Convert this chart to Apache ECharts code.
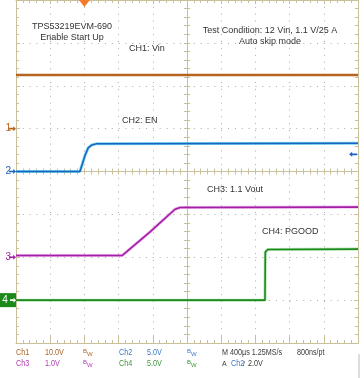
<!DOCTYPE html>
<html><head><meta charset="utf-8">
<script src="https://cdn.jsdelivr.net/npm/echarts@6/dist/echarts.min.js"></script>
<style>html,body{margin:0;padding:0;background:#fff}#c{width:364px;height:378px}</style>
</head><body><div id="c"></div>
<script>
// Traces in screen divisions: [time (div from centre), level (div from centre)]
const ch1Vin   = [[-5, 2.25], [5, 2.25]];
const ch2En    = [[-5, 0], [-3.13, 0], [-3.07, 0.15], [-2.98, 0.38], [-2.89, 0.55], [-2.78, 0.62], [-2.63, 0.65], [5, 0.66]];
const ch3Vout  = [[-5, -1.96], [-1.9, -1.96], [-1.08, -1.41], [-0.35, -0.88], [-0.2, -0.84], [5, -0.83]];
const ch4Pgood = [[-5, -3.0], [2.28, -3.0], [2.29, -1.88], [2.36, -1.82], [5, -1.81]];
const groundLevels = [1, 0, -2, -3];          // ground markers ch1..ch4
const chNames = ['1', '2', '3', '4'];
const chColors = ['#b5651d', '#1a64c0', '#a21ea6', '#1b8a1b'];
const triggerTime = -3;
const triggerLevel = 0.4;
const xRange = [-5, 5];
const yRange = [-4, 4];

const GL = 16, GR = 6, GT = 0, GB = 35, W = 364, H = 378;
const gw = W - GL - GR, gh = H - GT - GB;

const tan = '#c9bf9a';
const dot = { show: true, lineStyle: { color: '#aaaaaa', type: [1, 5.84], width: 1 } };

function tick(inside, len) { return { show: true, inside: inside, length: len, lineStyle: { color: tan, width: 1 } }; }
function minor(len) { return { show: true, splitNumber: 5, length: len, lineStyle: { color: tan, width: 1 } }; }
function ax(range, o) {
  return Object.assign({
    type: 'value', min: range[0], max: range[1], interval: 1,
    axisLabel: { show: false }, splitLine: { show: false },
    axisLine: { show: true, onZero: false, lineStyle: { color: tan, width: 1 } },
    axisTick: tick(true, 4), minorTick: minor(3)
  }, o);
}

const arrowR = 'path://M0 2H6V0L10 3L6 6V4H0Z';
const arrowL = 'path://M10 2H4V0L0 3L4 6V4H10Z';

function groundMark(i) {
  const c = chColors[i];
  if (i === 3) {
    return [
      { coord: [xRange[0], groundLevels[i]], symbol: 'rect', symbolSize: [16, 14], symbolOffset: [-8, 0],
        itemStyle: { color: '#1b8a1b' },
        label: { show: true, formatter: chNames[i], position: 'inside', offset: [-3, 0], color: '#fff', fontSize: 10, fontFamily: 'Liberation Sans' } },
      { coord: [xRange[0], groundLevels[i]], symbol: arrowR, symbolSize: [6, 5], symbolOffset: [-3, 0],
        itemStyle: { color: '#fff' }, label: { show: false } }
    ];
  }
  return [{ coord: [xRange[0], groundLevels[i]], symbol: arrowR, symbolSize: [7, 5], symbolOffset: [-3.5, 0],
    itemStyle: { color: c },
    label: { show: true, formatter: chNames[i], position: 'left', distance: 0, offset: [2, 0], color: c, fontSize: 10, fontFamily: 'Liberation Sans' } }];
}

function line(data, color, width, extra) {
  return Object.assign({
    type: 'line', data: data, showSymbol: false, symbol: 'none', animation: false,
    lineStyle: { color: color, width: width }, xAxisIndex: 0, yAxisIndex: 0
  }, extra || {});
}

const labelFont = '9px "Liberation Sans", Arial, sans-serif';
const legFont = '9px "Liberation Sans", Arial, sans-serif';
function txt(x, y, text, fill, font, align, sx) {
  return { type: 'text', x: x, y: y, z: 10, scaleX: sx || 1, style: { text: text, fill: fill, font: font, textAlign: align || 'left', align: align || 'left', textVerticalAlign: 'middle', verticalAlign: 'middle', lineHeight: 11 } };
}
function leg(x, y, text, fill) { return txt(x, y, text, fill, legFont, 'left', 0.8); }
function bw(x, y, fill) {
  return [txt(x, y - 2, 'B', fill, '6px "Liberation Sans", sans-serif'), txt(x + 4, y + 1, 'W', fill, '6px "Liberation Sans", sans-serif')];
}

const legC = ['#a8652a', '#3a78c8', '#b03cb0', '#3c963c'];
const dark = '#3a3a3a';

const chart = echarts.init(document.getElementById('c'), null, { renderer: 'canvas' });
chart.setOption({
  animation: false,
  backgroundColor: '#ffffff',
  grid: { left: GL, right: GR, top: GT, bottom: GB, containLabel: false },
  xAxis: [
    ax(xRange, { position: 'bottom', axisTick: tick(true, 7), splitLine: dot }),
    ax(xRange, { position: 'top' }),
    ax(xRange, { position: 'bottom', offset: -gh / 2, axisTick: tick(true, 3) }),
    ax(xRange, { position: 'bottom', offset: -gh / 2, axisTick: tick(false, 3) })
  ],
  yAxis: [
    ax(yRange, { position: 'left', splitLine: dot }),
    ax(yRange, { position: 'right' }),
    ax(yRange, { position: 'left', offset: -gw / 2, axisTick: tick(true, 3) }),
    ax(yRange, { position: 'left', offset: -gw / 2, axisTick: tick(false, 3) })
  ],
  series: [
    line(ch1Vin, chColors[0], 2.5, { markPoint: { animation: false, data: groundMark(0).concat([
      { coord: [triggerTime, yRange[1]], symbol: 'triangle', symbolRotate: 180, symbolSize: [11, 7], symbolOffset: [0, 3.5], itemStyle: { color: '#f37b2e' }, label: { show: false } }
    ]) } }),
    line(ch2En, '#5ccbef', 3, { lineStyle: { color: '#5ccbef', width: 3, opacity: 0.85 } }),
    line(ch2En, chColors[1], 1.5, { markPoint: { animation: false, data: groundMark(1).concat([
      { coord: [xRange[1], triggerLevel], symbol: arrowL, symbolSize: [8, 5], symbolOffset: [-5, 0], itemStyle: { color: chColors[1] }, label: { show: false } }
    ]) } }),
    line(ch3Vout, '#e07ae0', 3, { lineStyle: { color: '#e07ae0', width: 3, opacity: 0.6 } }),
    line(ch3Vout, chColors[2], 1.6, { markPoint: { animation: false, data: groundMark(2) } }),
    line(ch4Pgood, '#7fd07f', 3, { lineStyle: { color: '#7fd07f', width: 3, opacity: 0.6 } }),
    line(ch4Pgood, chColors[3], 1.6, { markPoint: { animation: false, data: groundMark(3) } })
  ],
  graphic: [
    txt(72, 32.5, 'TPS53219EVM-690\nEnable Start Up', '#333', labelFont, 'center'),
    txt(129, 49, 'CH1: Vin', '#333', labelFont),
    txt(270, 36, 'Test Condition: 12 Vin, 1.1 V/25 A\nAuto skip mode', '#333', labelFont, 'center'),
    txt(122, 121, 'CH2: EN', '#333', labelFont),
    txt(207, 190, 'CH3: 1.1 Vout', '#333', labelFont),
    txt(262, 232, 'CH4: PGOOD', '#333', labelFont),
    leg(16, 353, 'Ch1', legC[0]), leg(45, 353, '10.0V', legC[0]),
    leg(119, 353, 'Ch2', legC[1]), leg(147, 353, '5.0V', legC[1]),
    leg(222, 353, 'M 400µs 1.25MS/s', dark), leg(297, 353, '800ns/pt', dark),
    leg(16, 364, 'Ch3', legC[2]), leg(45, 364, '1.0V', legC[2]),
    leg(119, 364, 'Ch4', legC[3]), leg(147, 364, '5.0V', legC[3]),
    txt(222, 364, 'A', dark, '7px "Liberation Sans", sans-serif'),
    leg(231, 364, 'Ch2', legC[1]), txt(243, 364, '/', dark, '7px "Liberation Sans", sans-serif'),
    leg(248, 364, '2.0V', dark),
    { type: 'rect', shape: { x: 358, y: 354, width: 2, height: 24 }, style: { fill: '#dddddd' } }
  ].concat(bw(83, 353, legC[0]), bw(187, 353, legC[1]), bw(83, 364, legC[2]), bw(187, 364, legC[3]))
});
</script></body></html>
